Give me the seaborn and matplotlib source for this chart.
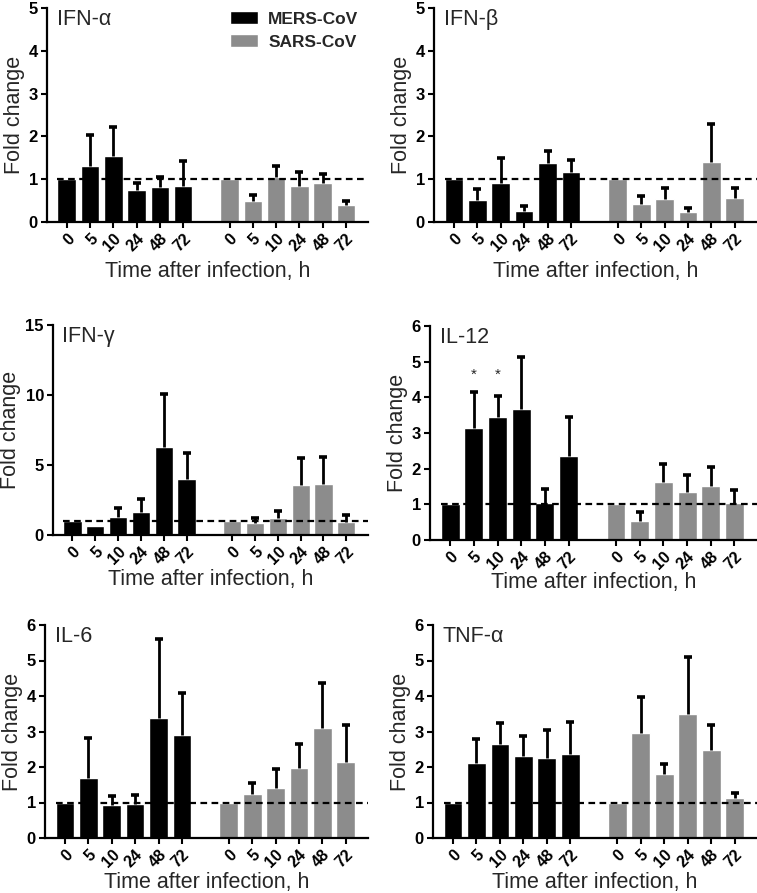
import numpy as np
import pandas as pd
import seaborn as sns
import matplotlib
matplotlib.use("Agg")
import matplotlib.pyplot as plt

times = ["0", "5", "10", "24", "48", "72"]
viruses = ["MERS-CoV", "SARS-CoV"]
colors = {"MERS-CoV": "#000000", "SARS-CoV": "#8c8c8c"}

# mean fold change (bar) and top of the SD whisker
ifna_mers = [1.0, 1.32, 1.55, 0.75, 0.82, 0.85]
ifna_mers_top = [1.0, 2.04, 2.21, 0.90, 1.06, 1.42]
ifna_sars = [1.0, 0.48, 1.06, 0.83, 0.90, 0.40]
ifna_sars_top = [1.0, 0.63, 1.30, 1.17, 1.12, 0.50]

ifnb_mers = [1.0, 0.51, 0.91, 0.26, 1.38, 1.16]
ifnb_mers_top = [1.0, 0.77, 1.49, 0.37, 1.66, 1.46]
ifnb_sars = [1.0, 0.41, 0.54, 0.24, 1.41, 0.56]
ifnb_sars_top = [1.0, 0.60, 0.79, 0.33, 2.28, 0.79]

ifng_mers = [1.0, 0.62, 1.32, 1.63, 6.26, 4.03]
ifng_mers_top = [1.0, 0.62, 1.94, 2.57, 10.07, 5.83]
ifng_sars = [1.0, 0.84, 1.22, 3.55, 3.67, 0.91]
ifng_sars_top = [1.0, 1.22, 1.70, 5.47, 5.59, 1.41]

il12_mers = [1.0, 3.13, 3.46, 3.67, 1.05, 2.35]
il12_mers_top = [1.0, 4.14, 4.03, 5.13, 1.43, 3.44]
il12_sars = [1.0, 0.54, 1.63, 1.35, 1.52, 1.05]
il12_sars_top = [1.0, 0.78, 2.12, 1.81, 2.06, 1.39]

il6_mers = [1.0, 1.69, 0.92, 0.97, 3.39, 2.91]
il6_mers_top = [1.0, 2.83, 1.19, 1.20, 5.60, 4.09]
il6_sars = [1.0, 1.24, 1.40, 1.97, 3.10, 2.14]
il6_sars_top = [1.0, 1.56, 1.95, 2.64, 4.38, 3.17]

tnfa_mers = [1.0, 2.10, 2.64, 2.31, 2.24, 2.36]
tnfa_mers_top = [1.0, 2.78, 3.25, 2.87, 3.04, 3.28]
tnfa_sars = [1.0, 2.95, 1.81, 3.49, 2.49, 1.13]
tnfa_sars_top = [1.0, 3.96, 2.09, 5.09, 3.18, 1.26]

sns.set_style("ticks")
plt.rcParams["font.family"] = ["Liberation Sans", "DejaVu Sans"]

W, H = 757, 893
fig = plt.figure(figsize=(W / 100, H / 100), dpi=100)


def make_ax(left, top, right, bottom):
    return fig.add_axes([left / W, 1 - bottom / H, (right - left) / W, (bottom - top) / H])


def draw_panel(ax, name, mers, mers_top, sars, sars_top, ymax, ystep,
               legend=False, stars=(), labelpad=3):
    slots = ["M" + t for t in times] + ["gap"] + ["S" + t for t in times]
    df = pd.DataFrame({
        "slot": ["M" + t for t in times] + ["S" + t for t in times],
        "fold": mers + sars,
        "top": mers_top + sars_top,
        "virus": [viruses[0]] * len(times) + [viruses[1]] * len(times),
    })
    sns.barplot(data=df, x="slot", y="fold", hue="virus", order=slots,
                hue_order=viruses, palette=colors, dodge=False, saturation=1,
                width=0.8, legend=legend, ax=ax, zorder=2)
    pos = {c: i for i, c in enumerate(slots)}

    # whiskers only go up (mean + SD), like in Prism
    for c, h, t in zip(df.slot, df.fold, df.top):
        if t <= h:
            continue
        ax.vlines(pos[c], h, t, color="black", lw=2.0, zorder=3)
        ax.plot(pos[c], t, marker="_", ms=5.5, mew=2.6, color="black", zorder=3)

    for c in stars:
        ax.text(pos[c], 4.45, "*", ha="center", va="bottom", fontsize=11)

    xlo, xhi = -0.85, 12.95
    ax.hlines(1, -0.4, xhi, colors="black", linestyles=(0, (3, 2)), lw=1.6, zorder=4)
    ax.set_xlim(xlo, xhi)
    ax.set_ylim(0, ymax)
    ax.set_yticks(np.arange(0, ymax + 0.01, ystep))

    ticks = [pos[c] for c in df.slot]
    ax.set_xticks(ticks, [s[1:] for s in df.slot], rotation=45, ha="right",
                  rotation_mode="anchor")
    ax.tick_params(direction="out", length=4.5, width=1.5, colors="black",
                   pad=2, labelsize=12)
    ax.tick_params(axis="x", pad=2, labelsize=11.5)
    for lab in ax.get_xticklabels() + ax.get_yticklabels():
        lab.set_fontweight("bold")

    for s in ["top", "right"]:
        ax.spines[s].set_visible(False)
    for s in ["left", "bottom"]:
        ax.spines[s].set_linewidth(1.6)
        ax.spines[s].set_color("black")

    ax.set_ylabel("Fold change", fontsize=15.5, labelpad=3)
    ax.set_xlabel("Time after infection, h", fontsize=15.5, labelpad=labelpad)
    ax.text(0.03, 0.995, name, transform=ax.transAxes, ha="left", va="top",
            fontsize=15.5)

    if legend:
        ax.legend(loc="upper left", bbox_to_anchor=(0.57, 0.985), frameon=False,
                  prop={"weight": "bold", "size": 12.5}, handlelength=1.6,
                  handleheight=0.75, handletextpad=0.6, labelspacing=0.45,
                  borderpad=0, borderaxespad=0)


ax1 = make_ax(47, 8, 368, 222)
draw_panel(ax1, "IFN-α", ifna_mers, ifna_mers_top, ifna_sars, ifna_sars_top,
           5, 1, legend=True, labelpad=5)
ax2 = make_ax(434, 8, 757, 222)
draw_panel(ax2, "IFN-β", ifnb_mers, ifnb_mers_top, ifnb_sars, ifnb_sars_top,
           5, 1, labelpad=5)
ax3 = make_ax(53, 325, 368, 535)
draw_panel(ax3, "IFN-γ", ifng_mers, ifng_mers_top, ifng_sars, ifng_sars_top,
           15, 5, labelpad=1)
ax4 = make_ax(430, 326, 757, 540)
draw_panel(ax4, "IL-12", il12_mers, il12_mers_top, il12_sars, il12_sars_top,
           6, 1, stars=("M5", "M10"), labelpad=0)
ax5 = make_ax(45, 625, 368, 838)
draw_panel(ax5, "IL-6", il6_mers, il6_mers_top, il6_sars, il6_sars_top,
           6, 1, labelpad=1)
ax6 = make_ax(433, 625, 757, 838)
draw_panel(ax6, "TNF-α", tnfa_mers, tnfa_mers_top, tnfa_sars, tnfa_sars_top,
           6, 1, labelpad=1)

fig.savefig("out.png", dpi=100)
